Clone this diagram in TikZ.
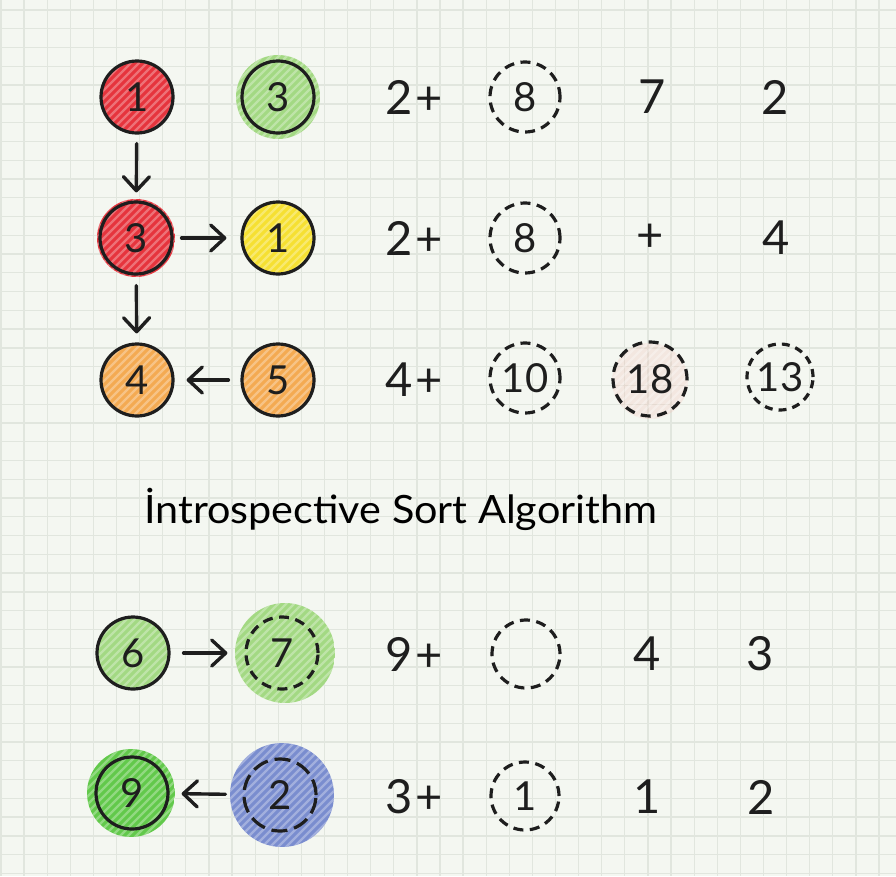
\documentclass[tikz,border=0pt]{standalone}
\usepackage{fontspec}
\setmainfont{Lato}
\usetikzlibrary{arrows.meta}
\definecolor{bg}{HTML}{F4F7F1}
\definecolor{gridc}{HTML}{E1E6DE}
\definecolor{ink}{HTML}{1E1E1E}
\definecolor{cred}{HTML}{E6343D}
\definecolor{clgreen}{HTML}{A3D983}
\definecolor{cyellow}{HTML}{F6E032}
\definecolor{corange}{HTML}{F4AA52}
\definecolor{cgreen}{HTML}{62C94B}
\definecolor{cblue}{HTML}{7A8DCF}
\definecolor{cpink}{HTML}{F2B8AE}
\tikzset{
  hach/.style={path picture={
    \fill[#1] (path picture bounding box.south west) rectangle (path picture bounding box.north east);
    \foreach \k in {-12,...,12}
      \draw[white,opacity=.3,line width=2.2pt] ([xshift=\k*8pt-60pt,yshift=-60pt]path picture bounding box.center) -- ++(120pt,120pt);
  }},
  ball/.style={circle, minimum size=72pt, inner sep=0pt, draw=ink, line width=3.2pt, text=ink, font=\fontsize{40}{40}\selectfont},
  dball/.style={ball, dash pattern=on 10pt off 6.5pt},
  scrib/.style={circle, inner sep=0pt, minimum size=#1},
  num/.style={inner sep=0pt, text=ink, font=\fontsize{47}{47}\selectfont},
  arr/.style={draw=ink, line width=3.4pt, line cap=round, -{Straight Barb[length=14pt,width=26pt,round]}},
}
\begin{document}
\begin{tikzpicture}[x=1pt,y=-1pt]
\fill[bg] (0,0) rectangle (896,876);
\useasboundingbox (0,0) rectangle (896,876);
\foreach \i in {0,...,38} \draw[gridc,line width=1.3pt] ({1+\i*23.105},0) -- ++(0,876);
\foreach \j in {0,...,46} \draw[gridc,line width=1.3pt] (0,{10+\j*18.77}) -- ++(896,0);

% row 1
\node[ball,hach=cred] (n11) at (137,97) {1};
\node[scrib=84pt,hach=clgreen] (s12) at (278,97) {};
\node[ball] (n12) at (278,97) {3};
\node[num] (t13) at (414,97) {2\kern3pt+};
\node[dball,minimum size=70pt] (d14) at (525,97) {8};
\node[num] (t15) at (652,97) {7};
\node[num] (t16) at (775,97) {2};

% row 2
\node[scrib=78pt,hach=cred] (s21) at (136,238) {};
\node[ball] (n21) at (136,238) {3};
\node[ball,hach=cyellow] (n22) at (278,238) {1};
\node[num] (t23) at (414,238) {2\kern3pt+};
\node[dball,minimum size=70pt] (d24) at (525,238) {8};
\node[num] (t25) at (650,238) {+};
\node[num] (t26) at (776,238) {4};

% row 3
\node[ball,hach=corange] (n31) at (137,380) {4};
\node[ball,hach=corange] (n32) at (278,380) {5};
\node[num] (t33) at (414,380) {4\kern3pt+};
\node[dball,minimum size=70pt] (d34) at (525,378) {10};
\node[scrib=76pt,hach=cpink,opacity=.25] (s35) at (650,381) {};
\node[dball,minimum size=74pt] (d35) at (650,379) {18};
\node[dball,minimum size=66pt,dash pattern=on 8pt off 6pt] (d36) at (780,377) {13};

% title
\node[inner sep=0pt, anchor=base west, text=black, xscale=1.06, font=\fontsize{39}{39}\selectfont] (title) at (144,523) {İntrospective Sort Algorithm};

% row 4
\node[ball,hach=clgreen] (n41) at (133,653) {6};
\node[scrib=100pt,hach=clgreen] (s42) at (285,653) {};
\node[dball] (n42) at (282,653) {7};
\node[num] (t43) at (414,654) {9\kern3pt+};
\node[dball,minimum size=68pt] (d44) at (526,654) {};
\node[num] (t45) at (647,654) {4};
\node[num] (t46) at (760,654) {3};

% row 5
\node[scrib=88pt,hach=cgreen] (s51) at (131,793) {};
\node[ball] (n51) at (132,793) {9};
\node[scrib=104pt,hach=cblue] (s52) at (282,795) {};
\node[dball,dash pattern=on 16pt off 7pt] (n52) at (280,795) {2};
\node[num] (t53) at (414,797) {3\kern3pt+};
\node[dball,minimum size=68pt] (d54) at (525,796) {1};
\node[num] (t55) at (647,797) {1};
\node[num] (t56) at (761,797) {2};

% arrows
\draw[arr, shorten <=9pt, shorten >=8pt] (n11) -- (n21);
\draw[arr, shorten <=8pt, shorten >=14pt] (n21) -- (n22);
\draw[arr, shorten <=10pt, shorten >=9pt] (n21) -- (n31);
\draw[arr, shorten <=12pt, shorten >=12pt] (n32) -- (n31);
\draw[arr, shorten <=13pt, shorten >=17pt] (n41) -- (n42);
\draw[arr, shorten <=17pt, shorten >=12pt] (n52) -- (n51);
\end{tikzpicture}
\end{document}
